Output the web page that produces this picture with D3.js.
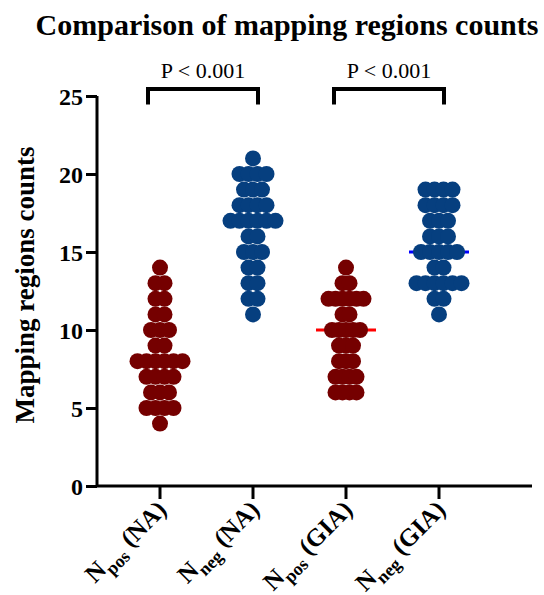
<!DOCTYPE html>
<html>
<head>
<meta charset="utf-8">
<script src="https://cdn.jsdelivr.net/npm/d3@7"></script>
<style>
  body { margin: 0; background: #fff; }
  svg text { font-family: "Liberation Serif", "Times New Roman", serif; }
</style>
</head>
<body>
<div id="chart"></div>
<script>
// groups, in order on the x axis
let groups = ['pos_NA', 'neg_NA', 'pos_GIA', 'neg_GIA'];
let group_sub = ['pos', 'neg', 'pos', 'neg'];
let group_tail = ['(NA)', '(NA)', '(GIA)', '(GIA)'];

// values read per group
let npos_na  = [14, 13,13, 12,12, 11,11, 10,10,10, 9,9, 8,8,8,8,8,8, 7,7,7,7, 6,6,6, 5,5,5,5, 4];
let nneg_na  = [21, 20,20,20,20, 19,19,19, 18,18,18,18, 17,17,17,17,17,17, 16,16, 15,15,15, 14,14, 13,13, 12,12, 11];
let npos_gia = [14, 13,13, 12,12,12,12,12,12, 11,11, 10,10,10,10,10, 9,9,9, 8,8,8, 7,7,7,7, 6,6,6,6];
let nneg_gia = [19,19,19,19, 18,18,18,18, 17,17,17, 16,16,16, 15,15,15,15,15, 14,14, 13,13,13,13,13,13, 12,12, 11];
let series = [npos_na, nneg_na, npos_gia, nneg_gia];

let y_ticks = [0, 5, 10, 15, 20, 25];
let comparisons = [['pos_NA', 'neg_NA', 'P < 0.001'], ['pos_GIA', 'neg_GIA', 'P < 0.001']];

let dot_colors = ['#750000', '#063f7f', '#750000', '#063f7f'];
let median_colors = ['#ff0000', '#0000ff', '#ff0000', '#0000ff'];

let width = 544, height = 595;
let pt_r = 8;
let pt_dx = [9, 9, 7, 9];  // horizontal step between dots of one row

let svg = d3.select('#chart').append('svg')
  .attr('width', width)
  .attr('height', height);

let sx = d3.scalePoint().domain(groups).range([160, 439]);
let sy = d3.scaleLinear().domain([0, 25]).range([486, 96]);

// title
svg.append('text')
  .attr('x', 287).attr('y', 35)
  .attr('text-anchor', 'middle')
  .style('font-size', '30px').style('font-weight', 'bold')
  .text('Comparison of mapping regions counts');

// y label
svg.append('text')
  .attr('transform', 'translate(34,285) rotate(-90)')
  .attr('text-anchor', 'middle')
  .style('font-size', '27px').style('font-weight', 'bold')
  .text('Mapping regions counts');

// median lines (behind dots)
series.forEach((vals, i) => {
  let med = d3.median(vals);
  svg.append('line')
    .attr('x1', sx(groups[i]) - 30).attr('x2', sx(groups[i]) + 30)
    .attr('y1', sy(med)).attr('y2', sy(med))
    .attr('stroke', median_colors[i]).attr('stroke-width', 3);
});

// dots: rows of equal value spread around the group centre
series.forEach((vals, i) => {
  let rows = d3.group(vals, v => v);
  let pts = [];
  for (let [v, arr] of rows) {
    arr.forEach((_, k) => pts.push({v: v, off: (k - (arr.length - 1) / 2) * pt_dx[i]}));
  }
  svg.append('g').selectAll('circle').data(pts).join('circle')
    .attr('cx', d => sx(groups[i]) + d.off)
    .attr('cy', d => sy(d.v))
    .attr('r', pt_r)
    .attr('fill', dot_colors[i]);
});

// y axis
let yAxis = d3.axisLeft(sy).tickValues(y_ticks).tickSize(11).tickPadding(3);
let gy = svg.append('g').attr('transform', 'translate(97,0)').call(yAxis);
gy.select('.domain').attr('d', `M0,${sy(25)}V${sy(0)}`).attr('stroke-width', 3);
gy.selectAll('.tick line').attr('stroke-width', 3);
gy.selectAll('.tick text')
  .style('font-family', '"Liberation Serif", serif')
  .style('font-size', '24px').style('font-weight', 'bold')
  .attr('fill', '#000').attr('dy', '0.34em');

// x axis
let gx = svg.append('g').attr('transform', `translate(0,${sy(0)})`);
gx.append('line').attr('x1', 96).attr('x2', 532)
  .attr('stroke', '#000').attr('stroke-width', 3);
gx.selectAll('.xt').data(groups).join('line')
  .attr('x1', d => sx(d)).attr('x2', d => sx(d))
  .attr('y1', 0).attr('y2', 13)
  .attr('stroke', '#000').attr('stroke-width', 3);

let xl = gx.selectAll('.xl').data(groups).join('text')
  .attr('transform', d => `translate(${sx(d) + 8},${25}) rotate(-45)`)
  .attr('text-anchor', 'end')
  .style('font-size', '25px').style('font-weight', 'bold');
xl.append('tspan').text('N');
xl.append('tspan').text((d, i) => group_sub[i])
  .attr('dy', 7).style('font-size', '18px');
xl.append('tspan').text((d, i) => ' ' + group_tail[i])
  .attr('dy', -7);

// significance brackets
comparisons.forEach(c => {
  let x1 = sx(c[0]) - 12, x2 = sx(c[1]) + 5;
  let yt = sy(25.45), yb = sy(24.45);
  svg.append('path')
    .attr('d', `M${x1},${yb}V${yt}H${x2}V${yb}`)
    .attr('fill', 'none').attr('stroke', '#000').attr('stroke-width', 4);
  svg.append('text')
    .attr('x', (x1 + x2) / 2).attr('y', yt - 11)
    .attr('text-anchor', 'middle')
    .style('font-size', '22px')
    .text(c[2]);
});
</script>
</body>
</html>
